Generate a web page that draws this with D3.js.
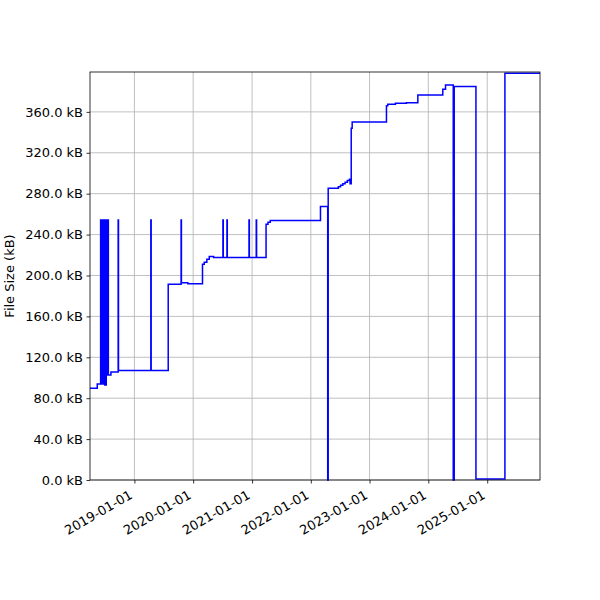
<html>
<head>
<title>File Size</title>
<script src="https://d3js.org/d3.v7.min.js"></script>
<style>
body { margin: 0; background: #fff; }
text { font-family: "DejaVu Sans", sans-serif; }
</style>
</head>
<body>
<script>

// Observations: date of each change and file size in kB after it
var dates = [
  "2018-03-31", "2018-05-15",
  "2018-06-05", "2018-06-07", "2018-06-10", "2018-06-13", "2018-06-16", "2018-06-19",
  "2018-06-22", "2018-06-25", "2018-06-28", "2018-07-01", "2018-07-04", "2018-07-07",
  "2018-07-10", "2018-07-12", "2018-07-16", "2018-07-18", "2018-07-21", "2018-07-23",
  "2018-08-08", "2018-09-22", "2018-09-24",
  "2019-04-13", "2019-04-15", "2019-07-30",
  "2019-10-18", "2019-10-20", "2019-11-29",
  "2020-02-28", "2020-03-10", "2020-03-26", "2020-04-10", "2020-05-07",
  "2020-07-04", "2020-07-06", "2020-07-29", "2020-07-31",
  "2020-12-13", "2020-12-15", "2021-01-27", "2021-01-29",
  "2021-03-29", "2021-04-10", "2021-04-24",
  "2022-03-02", "2022-04-16", "2022-04-19",
  "2022-06-07", "2022-06-21", "2022-07-05", "2022-07-19", "2022-08-02", "2022-08-16",
  "2022-08-29", "2022-09-02", "2022-09-09", "2022-09-15",
  "2023-04-16", "2023-04-24", "2023-06-11", "2023-08-18", "2023-10-28",
  "2024-03-31", "2024-04-17", "2024-06-04", "2024-06-10", "2024-10-23",
  "2025-04-21", "2025-11-25"
];
var sizes = [
  89.7, 94,
  254.3, 94, 254.3, 95, 254.3, 94,
  254.3, 96, 254.3, 93, 254.3, 93,
  254.3, 102.7, 254.3, 102.7, 254.3, 102.7,
  105.7, 254.3, 107,
  254.3, 107, 191.4,
  254.3, 193, 191.8,
  211, 213, 216, 218.5, 217.5,
  254.3, 217.5, 254.3, 217.5,
  254.3, 217.5, 254.3, 217.5,
  250, 252, 253.7,
  267.4, 0, 285.3,
  285.3, 286.8, 288.3, 289.8, 291.3, 292.8,
  294.2, 289.6, 344, 350,
  366, 367.5, 368.5, 369, 376.6,
  382.2, 386.4, 0, 384.8, 1,
  397.9, 397.9
];
var sizeTicks = [0, 40, 80, 120, 160, 200, 240, 280, 320, 360];
var yearTicks = ["2019-01-01", "2020-01-01", "2021-01-01", "2022-01-01",
                 "2023-01-01", "2024-01-01", "2025-01-01"];

var parse = d3.utcParse("%Y-%m-%d");
var data = dates.map(function(d, i) { return { date: parse(d), size: sizes[i] }; });

var margin = {top: 72, right: 60, bottom: 120, left: 90},
    width = 600 - margin.left - margin.right,
    height = 600 - margin.top - margin.bottom;

var svg = d3.select("body").append("svg")
    .attr("width", 600)
    .attr("height", 600)
  .append("g")
    .attr("transform", "translate(" + margin.left + "," + margin.top + ")");

var x = d3.scaleUtc()
    .domain(d3.extent(data, function(d) { return d.date; }))
    .range([0, width]);
var y = d3.scaleLinear()
    .domain([0, 399])
    .range([height, 0]);

// grid
svg.append("g").selectAll("line")
    .data(yearTicks.map(parse))
  .enter().append("line")
    .attr("x1", function(d) { return x(d); })
    .attr("x2", function(d) { return x(d); })
    .attr("y1", 0).attr("y2", height)
    .attr("stroke", "#b0b0b0").attr("stroke-width", 0.8);
svg.append("g").selectAll("line")
    .data(sizeTicks)
  .enter().append("line")
    .attr("x1", 0).attr("x2", width)
    .attr("y1", function(d) { return y(d); })
    .attr("y2", function(d) { return y(d); })
    .attr("stroke", "#b0b0b0").attr("stroke-width", 0.8);

// line
var line = d3.line()
    .curve(d3.curveStepAfter)
    .x(function(d) { return x(d.date); })
    .y(function(d) { return y(d.size); });

svg.append("path")
    .datum(data)
    .attr("fill", "none")
    .attr("stroke", "#0000ff")
    .attr("stroke-width", 1.5)
    .attr("d", line);

// frame
svg.append("rect")
    .attr("width", width).attr("height", height)
    .attr("fill", "none").attr("stroke", "#000").attr("stroke-width", 0.8);

// y axis
var yAxis = svg.append("g")
    .call(d3.axisLeft(y).tickValues(sizeTicks).tickSize(3.5).tickPadding(3.5)
      .tickFormat(function(d) { return d3.format(".1f")(d) + " kB"; }));
yAxis.select(".domain").remove();
yAxis.selectAll("text").attr("font-size", "13px").attr("fill", "#000")
    .attr("font-family", "DejaVu Sans");
yAxis.selectAll("line").attr("stroke-width", 0.8);

// x axis
var xAxis = svg.append("g")
    .attr("transform", "translate(0," + height + ")")
    .call(d3.axisBottom(x).tickValues(yearTicks.map(parse)).tickSize(3.5)
      .tickFormat(d3.utcFormat("%Y-%m-%d")));
xAxis.select(".domain").remove();
xAxis.selectAll("line").attr("stroke-width", 0.8);
xAxis.selectAll("text")
    .attr("font-size", "13px").attr("fill", "#000")
    .attr("font-family", "DejaVu Sans")
    .attr("text-anchor", "end")
    .attr("y", 0).attr("dy", 0)
    .attr("transform", "translate(-1.5,17.5) rotate(-30)");

svg.append("text")
    .attr("transform", "translate(" + (-76.5) + "," + (height / 2) + ") rotate(-90)")
    .attr("text-anchor", "middle")
    .attr("font-size", "13px")
    .text("File Size (kB)");

</script>
</body>
</html>
